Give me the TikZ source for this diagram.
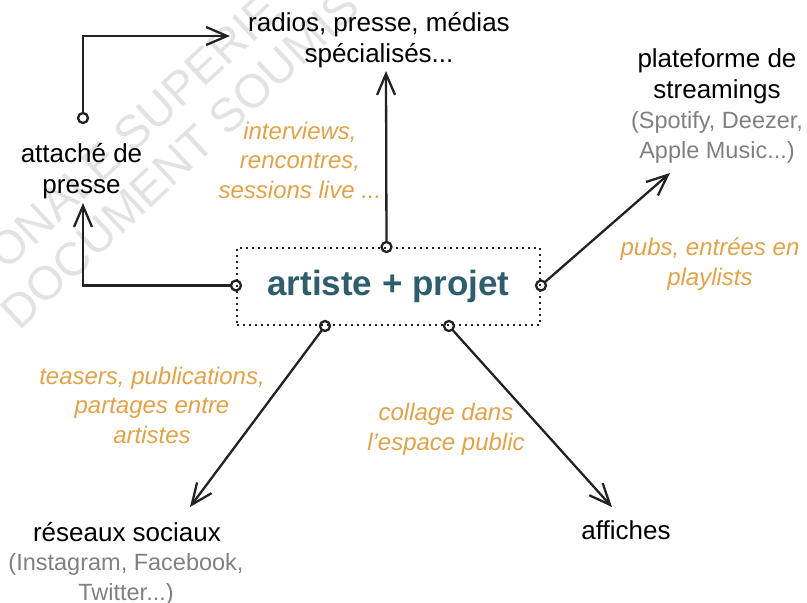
\documentclass[tikz,border=0pt]{standalone}
\usepackage{fontspec}
\setmainfont{Liberation Sans}
\usetikzlibrary{arrows.meta,calc}
\definecolor{ink}{RGB}{34,34,34}
\definecolor{orangelab}{RGB}{226,163,72}
\definecolor{subgray}{RGB}{128,128,128}
\definecolor{projteal}{RGB}{46,94,110}
\definecolor{wmgray}{RGB}{226,226,226}
\begin{document}
\begin{tikzpicture}[x=1pt,y=-1pt,
  main/.style={align=center, font=\fontsize{26}{31}\selectfont, text=black, inner sep=2pt},
  subtxt/.style={align=center, font=\fontsize{23.5}{29.5}\selectfont, text=subgray, inner sep=2pt},
  lab/.style={align=center, font=\fontsize{24}{29.5}\selectfont\itshape, text=orangelab, inner sep=2pt},
  conn/.style={draw=ink, line width=2.3pt, -{Straight Barb[length=21pt,width=18pt]}, shorten <=5pt},
  ring/.style={draw=ink, line width=2.3pt},
  wm/.style={font=\fontsize{47}{52}\selectfont, text=wmgray, rotate=43, inner sep=0pt}
]
\useasboundingbox (0,0) rectangle (807,603);
% watermark
\begin{scope}
  \clip (0,0) rectangle (807,603);
  \node[wm] (wma) at (134,131) {ONALE SUPERIE};
  \node[wm] (wmb) at (180,159) {DOCUMENT SOUMIS};
\end{scope}

% central box
\node[draw=ink, line width=2pt, dash pattern=on 2pt off 4pt,
      minimum width=303pt, minimum height=77pt, inner sep=0pt,
      font=\bfseries\fontsize{35}{40}\selectfont, text=projteal] (proj) at (388.5,286.5) {artiste + projet};

% text nodes (base = baseline of last line)
\node[main, anchor=base] (radios) at (379,62) {radios, presse, médias\\spécialisés...};
\node[main, anchor=base] (attache) at (81.5,193) {attaché de\\presse};
\node[main, anchor=base] (stream) at (717,98) {plateforme de\\streamings};
\node[subtxt, anchor=base] (streamsub) at (717,158) {(Spotify, Deezer,\\Apple Music...)};
\node[main, anchor=base] (reseaux) at (127,541) {réseaux sociaux};
\node[subtxt, anchor=base] (reseauxsub) at (126,600) {(Instagram, Facebook,\\Twitter...)};
\node[main, anchor=base] (affiches) at (626,539) {affiches};

% labels
\node[lab, anchor=base] (l1) at (300,198) {interviews,\\rencontres,\\sessions live ...};
\node[lab, anchor=base] (l2) at (710,285) {pubs, entrées en\\playlists};
\node[lab, anchor=base] (l3) at (152,443) {teasers, publications,\\partages entre\\artistes};
\node[lab, anchor=base] (l4) at (446,450) {collage dans\\l’espace public};

% ports and ends
\coordinate (pN) at ([xshift=-2pt]proj.north);
\coordinate (pW) at ([yshift=1pt]proj.west);
\coordinate (pE) at ([yshift=1pt]proj.east);
\coordinate (pS1) at ([xshift=89pt]proj.south west);
\coordinate (pS2) at ([xshift=213pt]proj.south west);
\coordinate (aTop) at (83,118);
\coordinate (radIn) at (230,36);
\coordinate (tRad) at (386,71);
\coordinate (tAtt) at (83,203);
\coordinate (tStream) at (670,173);
\coordinate (tRes) at (190,507);
\coordinate (tAff) at (612,507);

% connectors
\draw[conn] (pN) -- (tRad);
\draw[conn] (pW) -| (tAtt);
\draw[conn] (aTop) |- (radIn);
\draw[conn] (pE) -- (tStream);
\draw[conn] (pS1) -- (tRes);
\draw[conn] (pS2) -- (tAff);

% rings
\foreach \p in {pN,pW,pE,pS1,pS2,aTop}
  \draw[ring] (\p) circle[radius=5pt];
\end{tikzpicture}
\end{document}
